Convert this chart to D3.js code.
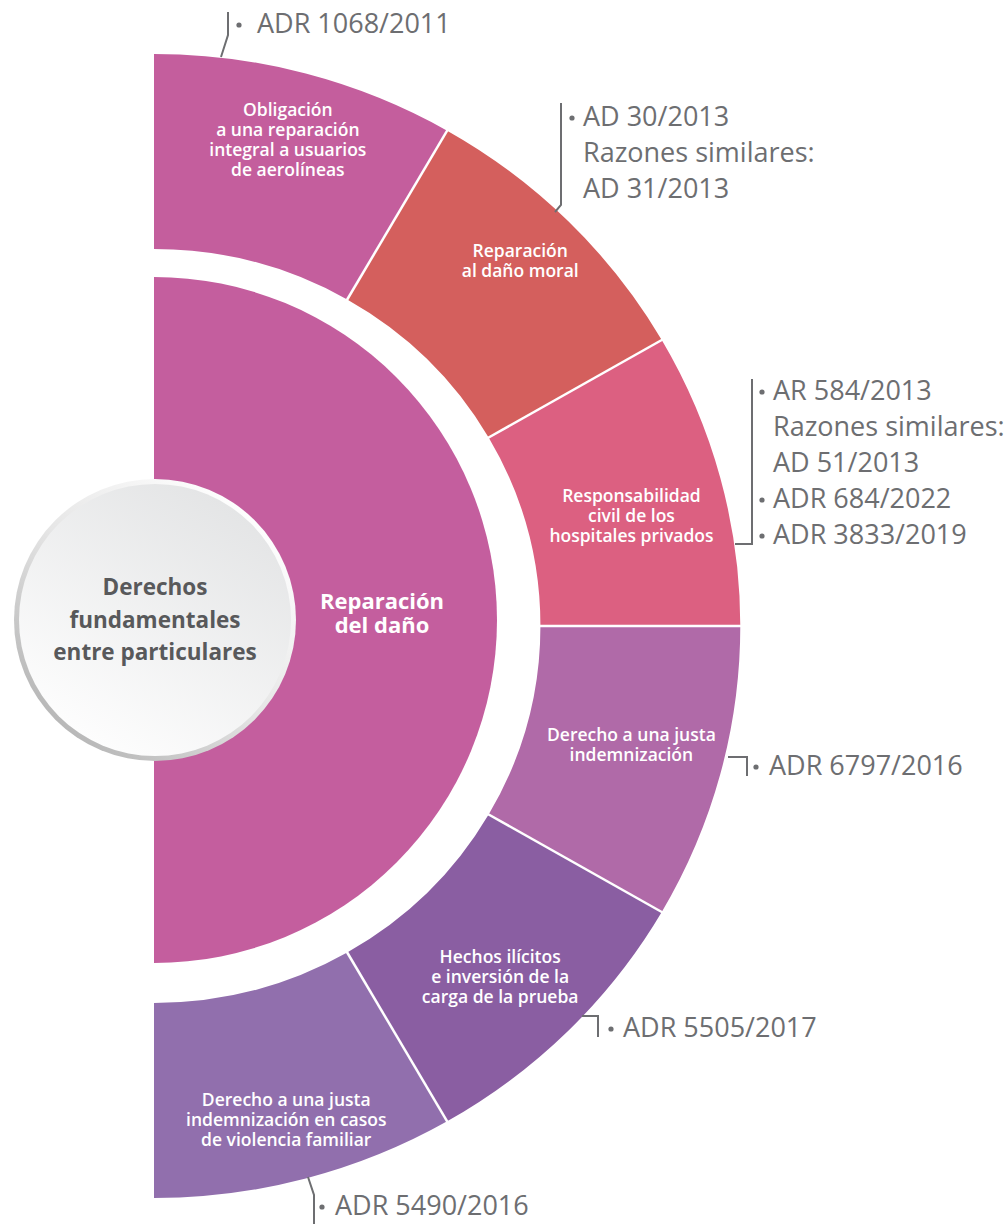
<!DOCTYPE html>
<html><head><meta charset="utf-8">
<script src="https://cdn.jsdelivr.net/npm/d3@7"></script>
<style>body{margin:0;background:#fff} svg{display:block}</style>
</head><body>
<svg id="chart" width="1006" height="1224"></svg>
<script>
// ---------------- DATA ----------------
const centerLabel = ["Derechos", "fundamentales", "entre particulares"];
const innerLabel = ["Reparación", "del daño"];
const segmentLines = [
  ["Obligación", "a una reparación", "integral a usuarios", "de aerolíneas"],
  ["Reparación", "al daño moral"],
  ["Responsabilidad", "civil de los", "hospitales privados"],
  ["Derecho a una justa", "indemnización"],
  ["Hechos ilícitos", "e inversión de la", "carga de la prueba"],
  ["Derecho a una justa", "indemnización en casos", "de violencia familiar"]
];
const segmentWeights = [1, 1, 1, 1, 1, 1];
const segmentColors = ["#c45e9d", "#d45f5d", "#dc6081", "#b06aa8", "#8a5ea2", "#916fad"];
const innerColor = "#c45e9e";
// citations: [bullet?, text]
const citations = [
  [[true, "ADR 1068/2011"]],
  [[true, "AD 30/2013"], [false, "Razones similares:"], [false, "AD 31/2013"]],
  [[true, "AR 584/2013"], [false, "Razones similares:"], [false, "AD 51/2013"], [true, "ADR 684/2022"], [true, "ADR 3833/2019"]],
  [[true, "ADR 6797/2016"]],
  [[true, "ADR 5505/2017"]],
  [[true, "ADR 5490/2016"]]
];

// ---------------- LAYOUT ----------------
const svg = d3.select("#chart");
const cx = 154, cyOuter = 626, cyInner = 620;
const rInner = 343, ringIn = 377, ringOut = 572, sx = 1.025;
const gray = "#6d6e71";
const font = "'Open Sans', sans-serif";

const pie = d3.pie().sort(null).value(d => d).startAngle(0).endAngle(Math.PI);
const arcs = pie(segmentWeights);
const ringArc = d3.arc().innerRadius(ringIn).outerRadius(ringOut);

// inner semicircle
svg.append("path")
  .attr("transform", `translate(${cx},${cyInner})`)
  .attr("d", d3.arc().innerRadius(0).outerRadius(rInner)({startAngle: 0, endAngle: Math.PI}))
  .attr("fill", innerColor);

// outer ring
const ring = svg.append("g").attr("transform", `translate(${cx},${cyOuter}) scale(${sx},1)`);
ring.selectAll("path.seg").data(arcs).join("path")
  .attr("class", "seg")
  .attr("d", ringArc)
  .attr("fill", (d, i) => segmentColors[i]);
// white dividers
ring.selectAll("line.div").data(arcs.slice(1)).join("line")
  .attr("x1", d => (ringIn - 2) * Math.sin(d.startAngle))
  .attr("y1", d => -(ringIn - 2) * Math.cos(d.startAngle))
  .attr("x2", d => (ringOut + 2) * Math.sin(d.startAngle))
  .attr("y2", d => -(ringOut + 2) * Math.cos(d.startAngle))
  .attr("stroke", "#fff").attr("stroke-width", 2.5)
  .attr("vector-effect", "non-scaling-stroke");

// segment labels: polar placement (angle offset in degrees from mid-angle, radius)
const labelPolar = [[0.4, 504], [0.1, 517], [2, 490], [-1, 492], [0.4, 493], [0, 511]];
arcs.forEach((d, i) => {
  const a = (d.startAngle + d.endAngle) / 2 + labelPolar[i][0] * Math.PI / 180;
  const r = labelPolar[i][1];
  const lx = cx + r * Math.sin(a);
  const ly = cyOuter - r * Math.cos(a);
  const lines = segmentLines[i];
  const lh = 20;
  const t = svg.append("text")
    .attr("text-anchor", "middle")
    .attr("font-family", font)
    .attr("font-weight", 600)
    .attr("font-size", 17.5)
    .attr("fill", "#fff");
  lines.forEach((s, k) => {
    t.append("tspan").attr("x", lx)
      .attr("y", ly + (k - (lines.length - 1) / 2) * lh)
      .attr("dy", "0.35em").text(s);
  });
});

// inner label
{
  const t = svg.append("text").attr("text-anchor", "middle")
    .attr("font-family", font).attr("font-weight", 700)
    .attr("font-size", 22).attr("fill", "#fff");
  innerLabel.forEach((s, k) => t.append("tspan").attr("x", cx + 228)
    .attr("y", cyInner - 11 + k * 24).text(s));
}

// center circle
const defs = svg.append("defs");
const gFill = defs.append("linearGradient").attr("id", "cfill")
  .attr("x1", "0.8").attr("y1", "0").attr("x2", "0.2").attr("y2", "1");
gFill.append("stop").attr("offset", "0").attr("stop-color", "#e2e3e4");
gFill.append("stop").attr("offset", "1").attr("stop-color", "#ffffff");
const gRim = defs.append("linearGradient").attr("id", "crim")
  .attr("x1", "0.85").attr("y1", "0.1").attr("x2", "0.15").attr("y2", "0.9");
gRim.append("stop").attr("offset", "0").attr("stop-color", "#ffffff");
gRim.append("stop").attr("offset", "0.5").attr("stop-color", "#e6e6e6");
gRim.append("stop").attr("offset", "1").attr("stop-color", "#b5b5b5");
const ccx = 155, ccy = 620, cr = 141;
svg.append("circle").attr("cx", ccx).attr("cy", ccy).attr("r", cr).attr("fill", "url(#crim)");
svg.append("circle").attr("cx", ccx).attr("cy", ccy).attr("r", cr - 5).attr("fill", "url(#cfill)");
{
  const t = svg.append("text").attr("text-anchor", "middle")
    .attr("font-family", font).attr("font-weight", 700)
    .attr("font-size", 22.5).attr("fill", "#58595b");
  centerLabel.forEach((s, k) => t.append("tspan").attr("x", ccx)
    .attr("y", ccy + (k - 1) * 32.5).attr("dy", "0.35em").text(s));
}

// citations (leader brackets + text)
const citeLayout = [
  {path: [[221, 57], [228, 35], [228, 12]], bx: 239, tx: 257, y: 33},
  {path: [[555, 212], [561, 205], [561, 103]], bx: 572, tx: 583, y: 126},
  {path: [[735, 544], [752, 544], [752, 379]], bx: 762, tx: 773, y: 400},
  {path: [[728, 757], [747, 757], [747, 776]], bx: 756, tx: 769, y: 775},
  {path: [[582, 1016], [598, 1016], [598, 1037]], bx: 611, tx: 623, y: 1037},
  {path: [[308, 1177], [314, 1195], [314, 1226]], bx: 322, tx: 335, y: 1215}
];
const lineGen = d3.line();
citations.forEach((lines, i) => {
  const L = citeLayout[i];
  svg.append("path").attr("d", lineGen(L.path)).attr("fill", "none")
    .attr("stroke", gray).attr("stroke-width", 2);
  lines.forEach(([bullet, s], k) => {
    const by = L.y + k * 36;
    if (bullet) svg.append("circle").attr("cx", L.bx).attr("cy", by - 8).attr("r", 2.6).attr("fill", gray);
    svg.append("text").attr("x", L.tx).attr("y", by)
      .attr("font-family", font).attr("font-size", 27)
      .attr("fill", gray).text(s);
  });
});
</script>
</body></html>
